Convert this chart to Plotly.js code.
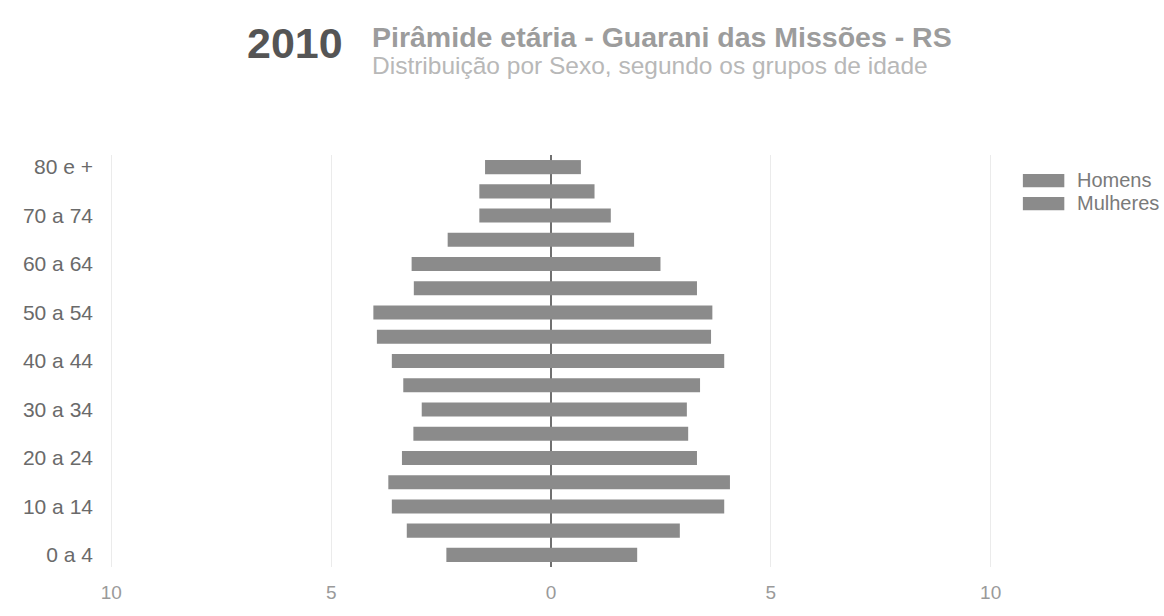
<!DOCTYPE html>
<html>
<head>
<meta charset="utf-8">
<script src="https://cdn.plot.ly/plotly-3.0.1.min.js"></script>
<style>
  html, body { margin: 0; padding: 0; background: #ffffff; }
  #chart { width: 1164px; height: 616px; }
</style>
</head>
<body>
<div id="chart"></div>
<script>
// Age groups (bottom to top)
var ageGroups = ['0 a 4','5 a 9','10 a 14','15 a 19','20 a 24','25 a 29','30 a 34','35 a 39',
                 '40 a 44','45 a 49','50 a 54','55 a 59','60 a 64','65 a 69','70 a 74','75 a 79','80 e +'];
// Percent of population
var homens   = [2.38, 3.28, 3.62, 3.70, 3.39, 3.13, 2.94, 3.36, 3.62, 3.96, 4.04, 3.12, 3.17, 2.35, 1.63, 1.63, 1.50];
var mulheres = [1.96, 2.93, 3.94, 4.07, 3.32, 3.12, 3.09, 3.39, 3.94, 3.64, 3.67, 3.32, 2.49, 1.89, 1.36, 0.99, 0.68];
// Axis tick labels
var yTickLabels = ['0 a 4','10 a 14','20 a 24','30 a 34','40 a 44','50 a 54','60 a 64','70 a 74','80 e +'];
var xTickVals = [-10, -5, 0, 5, 10];
var xTickText = ['10', '5', '0', '5', '10'];
var seriesNames = ['Homens', 'Mulheres'];

var barColor = '#8b8b8b';
var FONT = 'Liberation Sans, Arial, sans-serif';

var traces = [
  {
    type: 'bar', orientation: 'h', name: seriesNames[0],
    y: ageGroups, x: homens.map(function (v) { return -v; }),
    marker: { color: barColor },
    showlegend: false, hoverinfo: 'skip'
  },
  {
    type: 'bar', orientation: 'h', name: seriesNames[1],
    y: ageGroups, x: mulheres,
    marker: { color: barColor },
    showlegend: false, hoverinfo: 'skip'
  }
];

var layout = {
  width: 1164, height: 616,
  margin: { l: 110, r: 172, t: 155, b: 49 },
  paper_bgcolor: '#ffffff', plot_bgcolor: '#ffffff',
  font: { family: FONT, color: '#666' },
  barmode: 'relative',
  bargap: 0.42,
  xaxis: {
    range: [-10.03, 10.03],
    tickvals: xTickVals, ticktext: xTickText,
    tickfont: { size: 19, color: '#9a9a9a' },
    ticks: '', ticklabelstandoff: 12,
    showgrid: true, gridcolor: '#ebebeb', gridwidth: 1,
    zeroline: true, zerolinecolor: '#707070', zerolinewidth: 2,
    showline: false, fixedrange: true
  },
  yaxis: {
    type: 'category',
    categoryorder: 'array', categoryarray: ageGroups,
    tickvals: yTickLabels,
    tickfont: { size: 21, color: '#6a6a6a' },
    ticks: '', ticklabelstandoff: 16,
    showgrid: false, zeroline: false, showline: false, fixedrange: true
  },
  shapes: [
    { type: 'rect', xref: 'paper', yref: 'paper', x0: 1.035, x1: 1.082, y0: 0.922, y1: 0.954,
      fillcolor: barColor, line: { width: 0 } },
    { type: 'rect', xref: 'paper', yref: 'paper', x0: 1.035, x1: 1.082, y0: 0.866, y1: 0.898,
      fillcolor: barColor, line: { width: 0 } }
  ],
  annotations: [
    { xref: 'paper', yref: 'paper', x: 1.094, y: 0.939, xanchor: 'left', yanchor: 'middle',
      text: seriesNames[0], showarrow: false, font: { size: 20, color: '#7a7a7a', family: FONT } },
    { xref: 'paper', yref: 'paper', x: 1.094, y: 0.883, xanchor: 'left', yanchor: 'middle',
      text: seriesNames[1], showarrow: false, font: { size: 20, color: '#7a7a7a', family: FONT } },
    { xref: 'paper', yref: 'paper', x: (245 - 110) / 882, y: (616 - 49 - 43) / 412, xanchor: 'left', yanchor: 'middle',
      text: '<b>2010</b>', showarrow: false, font: { size: 43, color: '#555', family: FONT } },
    { xref: 'paper', yref: 'paper', x: (370 - 110) / 882, y: (616 - 49 - 37) / 412, xanchor: 'left', yanchor: 'middle',
      text: '<b>Pirâmide etária - Guarani das Missões - RS</b>', showarrow: false,
      font: { size: 28.5, color: '#9c9c9c', family: FONT } },
    { xref: 'paper', yref: 'paper', x: (370 - 110) / 882, y: (616 - 49 - 65) / 412, xanchor: 'left', yanchor: 'middle',
      text: 'Distribuição por Sexo, segundo os grupos de idade', showarrow: false,
      font: { size: 24.5, color: '#b8b8b8', family: FONT } }
  ]
};

Plotly.newPlot('chart', traces, layout, { displayModeBar: false, staticPlot: true });
</script>
</body>
</html>
